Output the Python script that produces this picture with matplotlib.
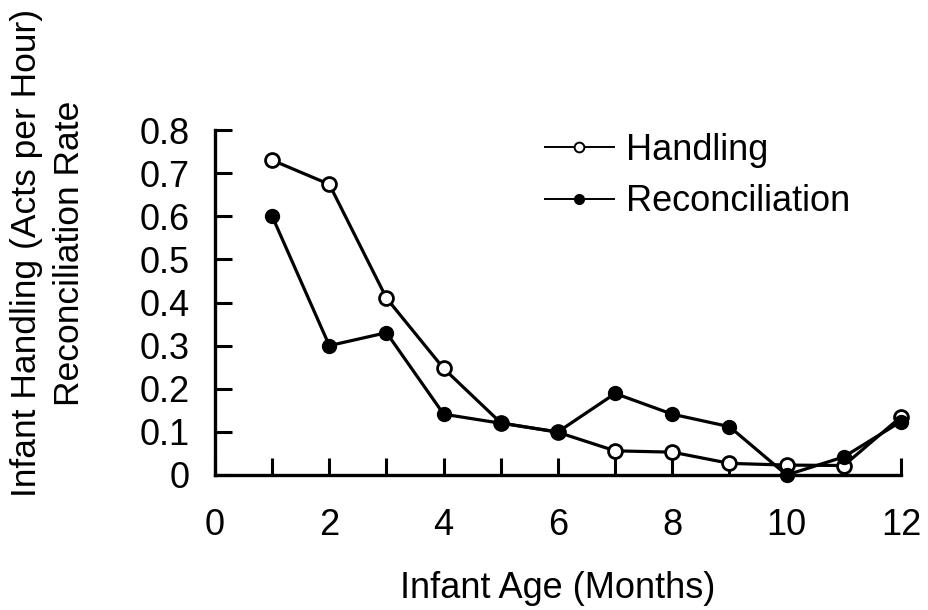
import matplotlib.pyplot as plt
from matplotlib.lines import Line2D

plt.rcParams['font.family'] = ['Liberation Sans', 'DejaVu Sans']

# data
age = [1, 2, 3, 4, 5, 6, 7, 8, 9, 10, 11, 12]
handling = [0.73, 0.674, 0.41, 0.247, 0.121, 0.099, 0.056, 0.053, 0.027, 0.023, 0.022, 0.135]
reconciliation = [0.60, 0.30, 0.33, 0.141, 0.12, 0.10, 0.189, 0.141, 0.112, 0.0, 0.042, 0.124]

x_ticks = list(range(0, 13))
x_labels = [str(v) if v % 2 == 0 else '' for v in x_ticks]
y_ticks = [0, 0.1, 0.2, 0.3, 0.4, 0.5, 0.6, 0.7, 0.8]
y_labels = ['0', '0.1', '0.2', '0.3', '0.4', '0.5', '0.6', '0.7', '0.8']

fs = 26

fig = plt.figure(figsize=(9.29, 6.10), dpi=100)
ax = fig.add_axes([215/929, 1 - 475/610, (901 - 215)/929, (475 - 130)/610])

ax.plot(age, handling, color='black', lw=2.3, marker='o', ms=10,
        mfc='white', mec='black', mew=2.0, clip_on=False, zorder=3)
ax.plot(age, reconciliation, color='black', lw=2.3, marker='o', ms=10,
        mfc='black', mec='black', clip_on=False, zorder=4)

ax.set_xlim(0, 12)
ax.set_ylim(0, 0.8)
ax.set_xticks(x_ticks)
ax.set_xticklabels(x_labels)
ax.set_yticks(y_ticks)
ax.set_yticklabels(y_labels)
ax.tick_params(direction='in', length=12, width=2.2, labelsize=fs)
ax.tick_params(axis='y', pad=18)
ax.tick_params(axis='x', pad=24)

for s in ['top', 'right']:
    ax.spines[s].set_visible(False)
for s in ['left', 'bottom']:
    ax.spines[s].set_linewidth(2.4)

fig.text(0.5 * (215 + 901) / 929, 1 - 588/610, 'Infant Age (Months)',
         ha='center', va='center', fontsize=fs)
fig.text(48/929, 1 - 253/610, 'Infant Handling (Acts per Hour)\nReconciliation Rate',
         ha='center', va='center', rotation=90, fontsize=25.5, linespacing=1.38)

handles = [
    Line2D([], [], color='black', lw=1.4, marker='o', ms=7, mfc='white', mec='black', mew=1.4),
    Line2D([], [], color='black', lw=1.4, marker='o', ms=7, mfc='black', mec='black'),
]
fig.legend(handles, ['Handling', 'Reconciliation'], loc='upper left',
           bbox_to_anchor=(545/929, 1 - 133/610), frameon=False, fontsize=fs,
           handlelength=1.9, handletextpad=0.33, labelspacing=0.45, borderpad=0,
           borderaxespad=0)

fig.savefig('out.png', dpi=100)
